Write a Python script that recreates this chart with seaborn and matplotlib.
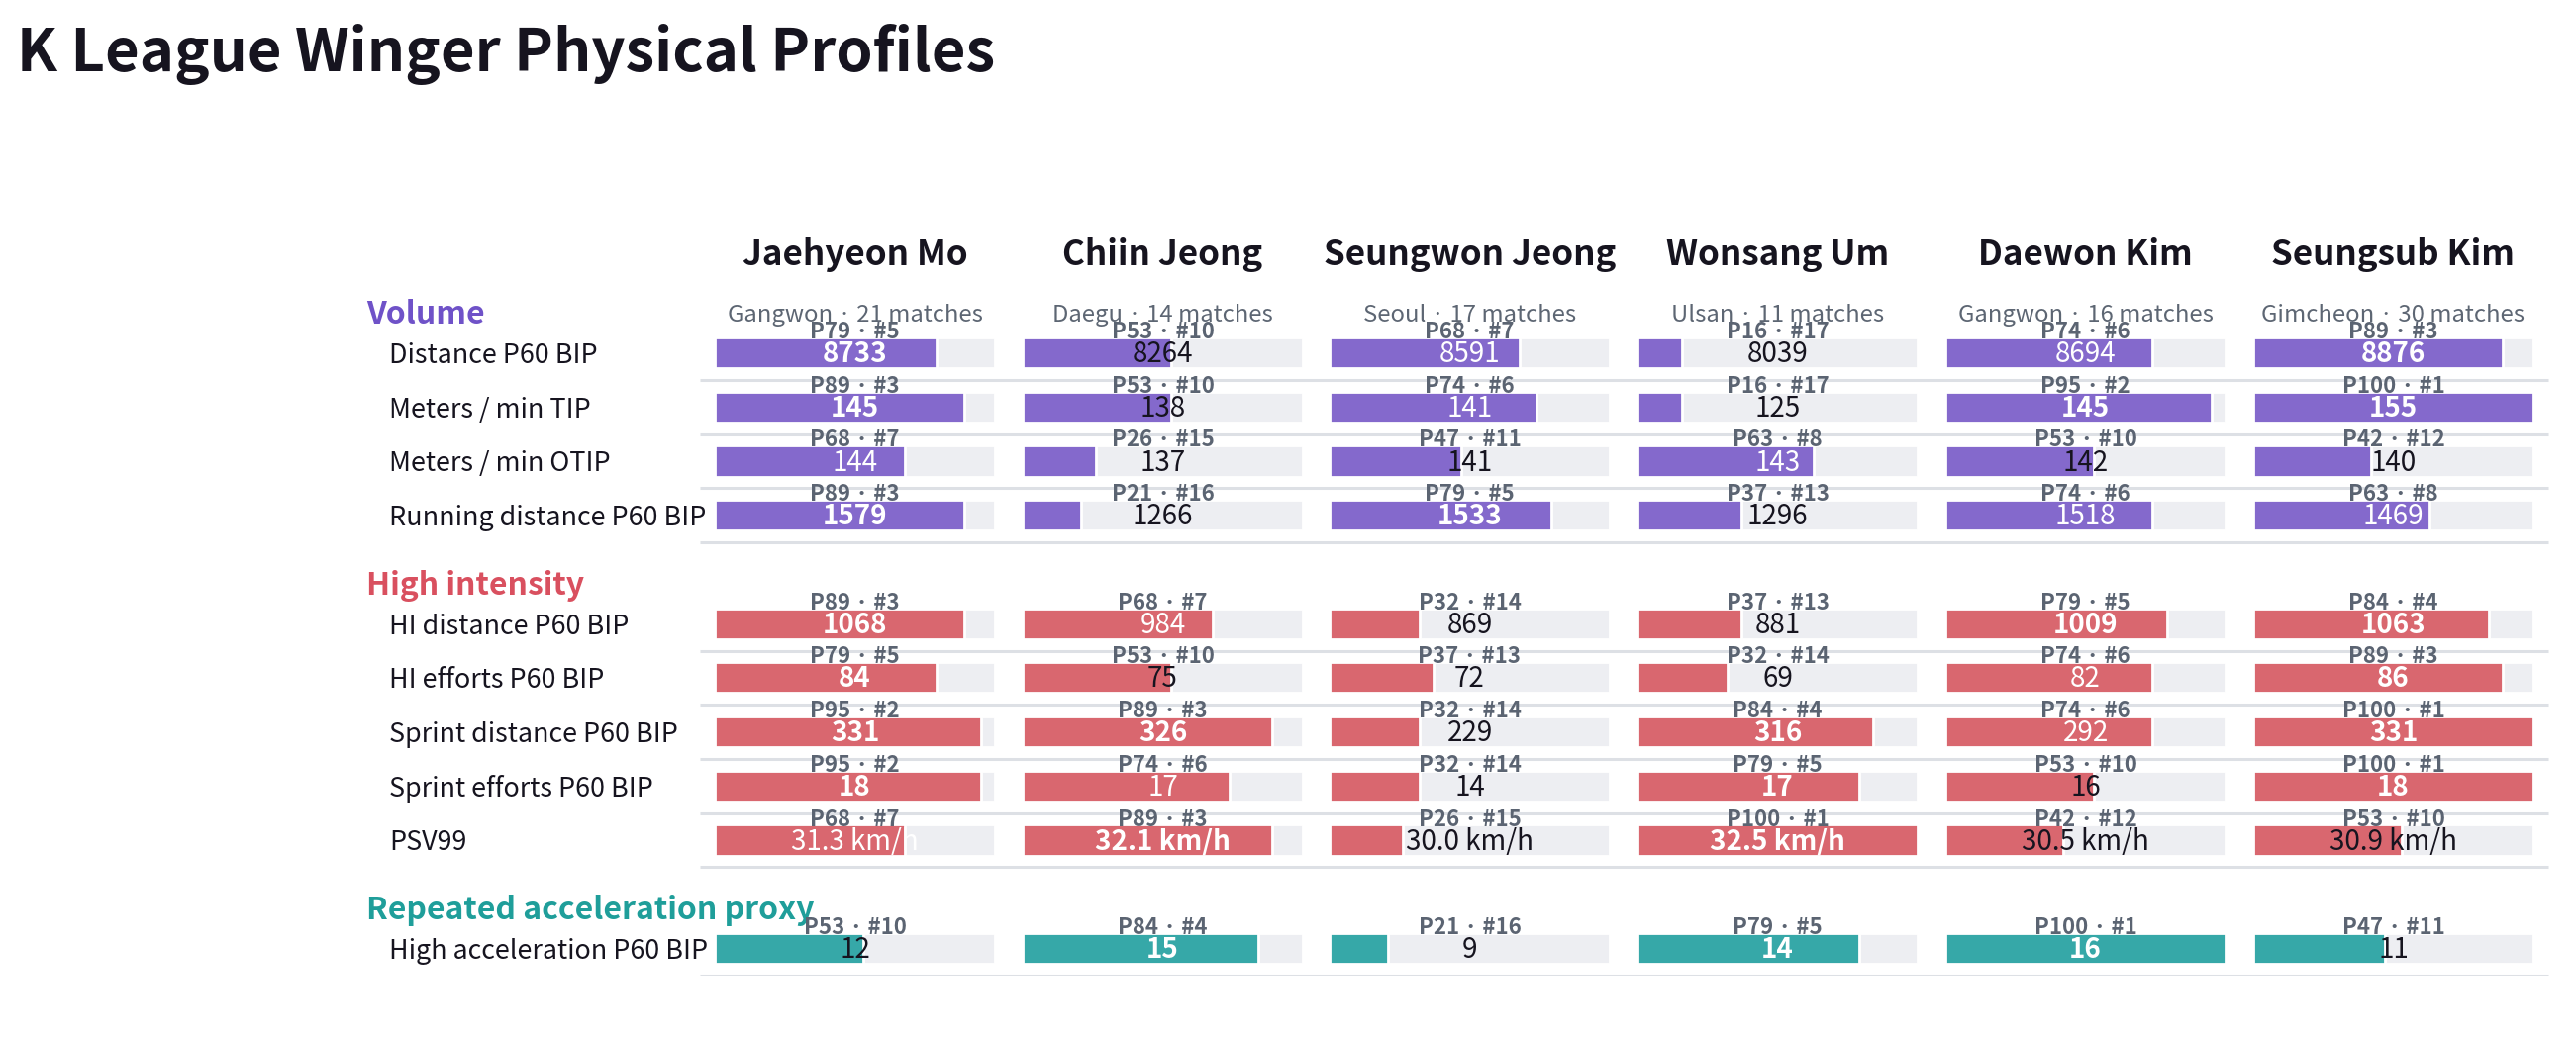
import pandas as pd
import matplotlib
matplotlib.use("Agg")
import matplotlib.pyplot as plt
import seaborn as sns

# Datos del gráfico
jugadores = ["Jaehyeon Mo", "Chiin Jeong", "Seungwon Jeong", "Wonsang Um", "Daewon Kim", "Seungsub Kim"]
equipos = ["Gangwon · 21 matches", "Daegu · 14 matches", "Seoul · 17 matches",
           "Ulsan · 11 matches", "Gangwon · 16 matches", "Gimcheon · 30 matches"]

secciones = ["Volume", "High intensity", "Repeated acceleration proxy"]
metricas_volume = ["Distance P60 BIP", "Meters / min TIP", "Meters / min OTIP", "Running distance P60 BIP"]
metricas_hi = ["HI distance P60 BIP", "HI efforts P60 BIP", "Sprint distance P60 BIP",
               "Sprint efforts P60 BIP", "PSV99"]
metricas_acc = ["High acceleration P60 BIP"]

# valores mostrados (una lista por métrica, orden de jugadores)
valores = {
    "Distance P60 BIP": ["8733", "8264", "8591", "8039", "8694", "8876"],
    "Meters / min TIP": ["145", "138", "141", "125", "145", "155"],
    "Meters / min OTIP": ["144", "137", "141", "143", "142", "140"],
    "Running distance P60 BIP": ["1579", "1266", "1533", "1296", "1518", "1469"],
    "HI distance P60 BIP": ["1068", "984", "869", "881", "1009", "1063"],
    "HI efforts P60 BIP": ["84", "75", "72", "69", "82", "86"],
    "Sprint distance P60 BIP": ["331", "326", "229", "316", "292", "331"],
    "Sprint efforts P60 BIP": ["18", "17", "14", "17", "16", "18"],
    "PSV99": ["31.3 km/h", "32.1 km/h", "30.0 km/h", "32.5 km/h", "30.5 km/h", "30.9 km/h"],
    "High acceleration P60 BIP": ["12", "15", "9", "14", "16", "11"],
}
percentiles = {
    "Distance P60 BIP": [79, 53, 68, 16, 74, 89],
    "Meters / min TIP": [89, 53, 74, 16, 95, 100],
    "Meters / min OTIP": [68, 26, 47, 63, 53, 42],
    "Running distance P60 BIP": [89, 21, 79, 37, 74, 63],
    "HI distance P60 BIP": [89, 68, 32, 37, 79, 84],
    "HI efforts P60 BIP": [79, 53, 37, 32, 74, 89],
    "Sprint distance P60 BIP": [95, 89, 32, 84, 74, 100],
    "Sprint efforts P60 BIP": [95, 74, 32, 79, 53, 100],
    "PSV99": [68, 89, 26, 100, 42, 53],
    "High acceleration P60 BIP": [53, 84, 21, 79, 100, 47],
}
rankings = {
    "Distance P60 BIP": [5, 10, 7, 17, 6, 3],
    "Meters / min TIP": [3, 10, 6, 17, 2, 1],
    "Meters / min OTIP": [7, 15, 11, 8, 10, 12],
    "Running distance P60 BIP": [3, 16, 5, 13, 6, 8],
    "HI distance P60 BIP": [3, 7, 14, 13, 5, 4],
    "HI efforts P60 BIP": [5, 10, 13, 14, 6, 3],
    "Sprint distance P60 BIP": [2, 3, 14, 4, 6, 1],
    "Sprint efforts P60 BIP": [2, 6, 14, 5, 10, 1],
    "PSV99": [7, 3, 15, 1, 12, 10],
    "High acceleration P60 BIP": [10, 4, 16, 5, 1, 11],
}

colores_barra = {"Volume": "#8469cc", "High intensity": "#d9676f",
                 "Repeated acceleration proxy": "#36a8a8"}
colores_seccion = {"Volume": "#6f52c8", "High intensity": "#d9505f",
                   "Repeated acceleration proxy": "#1f9e9a"}

# Orden de filas con un hueco entre secciones
orden = metricas_volume + ["_gap1"] + metricas_hi + ["_gap2"] + metricas_acc
seccion_de = {m: "Volume" for m in metricas_volume}
seccion_de.update({m: "High intensity" for m in metricas_hi})
seccion_de.update({m: "Repeated acceleration proxy" for m in metricas_acc})

filas = []
for m in orden:
    if m.startswith("_gap"):
        continue
    for j, jug in enumerate(jugadores):
        filas.append({"metrica": m, "jugador": jug, "seccion": seccion_de[m],
                      "pct": percentiles[m][j], "rank": rankings[m][j],
                      "valor": valores[m][j], "track": 100})
df = pd.DataFrame(filas)

sns.set_theme(style="white")
plt.rcParams["font.family"] = ["Noto Sans CJK KR", "DejaVu Sans"]

W, H = 2602, 1052
fig = plt.figure(figsize=(W / 200, H / 200), dpi=200)
fig.patch.set_facecolor("white")

# geometría en píxeles
pitch = 54.73
y_top = 356.5 - pitch / 2
n = len(orden)
ax_bottom = 1 - (y_top + n * pitch) / H
ax_height = n * pitch / H
track_x = [722, 1033, 1343, 1654, 1965, 2276]
track_w = 283

TXT = "#16141f"
GRIS = "#5b6472"

# eje de fondo: etiquetas y separadores
bg = fig.add_axes([0, ax_bottom, 1, ax_height])
bg.set_xlim(0, W)
bg.set_ylim(n - 0.5, -0.5)
bg.axis("off")
for i, m in enumerate(orden):
    if m.startswith("_gap"):
        continue
    bg.text(393, i + 0.19, m, ha="left", va="baseline", fontsize=9.7, color=TXT)
    bg.hlines(i + 0.5, 707, 2574, color="#dde0e5", lw=1.1)
for s in secciones:
    primera = [m for m in orden if seccion_de.get(m) == s][0]
    bg.text(370, orden.index(primera) - 0.54, s, ha="left", va="baseline",
            fontsize=11.5, fontweight="bold", color=colores_seccion[s])

for j, jug in enumerate(jugadores):
    ax = fig.add_axes([track_x[j] / W, ax_bottom, track_w / W, ax_height])
    sub = df[df["jugador"] == jug]
    sns.barplot(data=sub, y="metrica", x="track", order=orden, color="#edeef2",
                width=0.57, saturation=1, ax=ax, orient="h")
    sns.barplot(data=sub, y="metrica", x="pct", order=orden, hue="seccion",
                palette=colores_barra, width=0.57, saturation=1, ax=ax, orient="h",
                dodge=False, legend=False)
    ax.set_xlim(0, 100)
    ax.set_ylim(n - 0.5, -0.5)
    ax.axis("off")

    ax.text(50, -1.617, jug, ha="center", va="baseline", fontsize=12.6,
            fontweight="bold", color=TXT)
    ax.text(50, -0.576, equipos[j], ha="center", va="baseline", fontsize=8.6,
            color="#5d6673")

    for _, r in sub.iterrows():
        i = orden.index(r["metrica"])
        ax.text(50, i - 0.265, f"P{r['pct']} · #{r['rank']}", ha="center",
                va="baseline", fontsize=8, fontweight="bold", color=GRIS)
        if r["pct"] >= 75:
            c, w = "white", "bold"
        elif r["pct"] >= 60:
            c, w = "white", "normal"
        else:
            c, w = TXT, "normal"
        ax.text(50, i + 0.175, r["valor"], ha="center", va="baseline",
                fontsize=10, fontweight=w, color=c)

fig.text(17 / W, 1 - 72 / H, "K League Winger Physical Profiles", ha="left",
         va="baseline", fontsize=21.5, fontweight="bold", color=TXT)

plt.savefig("out.png", dpi=200, facecolor="white")
plt.close()
